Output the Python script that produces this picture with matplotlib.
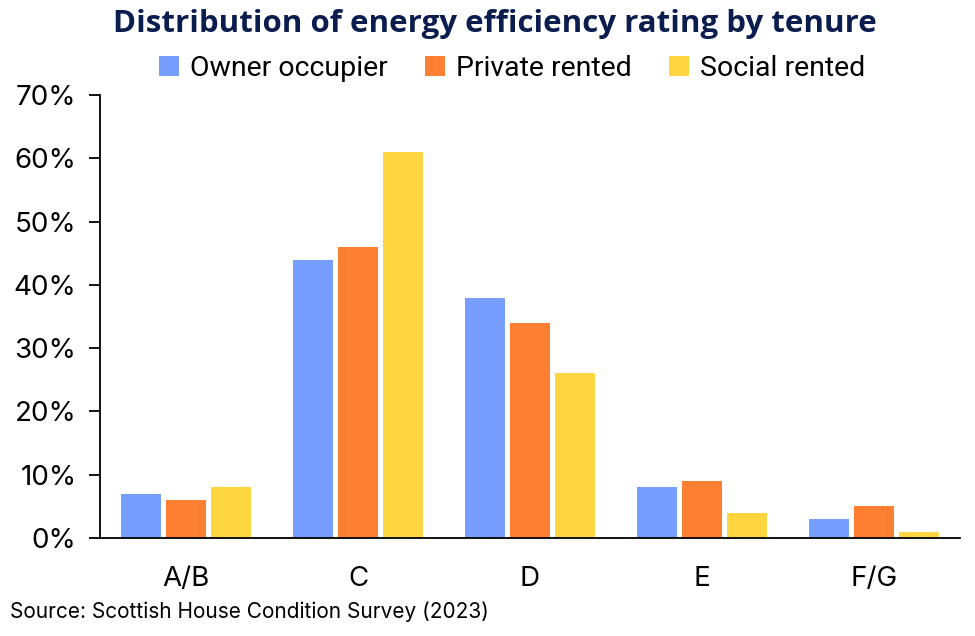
import matplotlib
matplotlib.use("Agg")
import matplotlib.pyplot as plt
import numpy as np

categories = ["A/B", "C", "D", "E", "F/G"]
series_names = ["Owner occupier", "Private rented", "Social rented"]
owner = [7, 44, 38, 8, 3]
private = [6, 46, 34, 9, 5]
social = [8, 61, 26, 4, 1]
colors = ["#779EFF", "#FF7F32", "#FFD540"]
yticks = [0, 10, 20, 30, 40, 50, 60, 70]

fig = plt.figure(figsize=(9.75, 6.36), dpi=100)
ax = fig.add_axes([100/975, 1 - 538/636, 860/975, (538-95)/636])

x = np.arange(len(categories))
w = 0.235
off = 0.26
for i, (vals, name) in enumerate(zip([owner, private, social], series_names)):
    ax.bar(x + (i - 1) * off, vals, width=w, color=colors[i], label=name, zorder=2)

ax.set_xlim(-0.5, len(categories) - 0.5)
ax.set_ylim(0, 70)
ax.set_yticks(yticks)
ax.set_yticklabels([f"{v}%" for v in yticks], fontsize=20, family="Inter")
ax.set_xticks(x)
ax.set_xticklabels(categories, fontsize=20, family="Inter")
for s in ["top", "right"]:
    ax.spines[s].set_visible(False)
ax.spines["left"].set_linewidth(1.3)
ax.spines["bottom"].set_linewidth(1.3)
ax.tick_params(axis="y", length=8, width=1.3, pad=9)
ax.tick_params(axis="x", length=0, pad=20)

fig.text(495/975, 1 - 24/636, "Distribution of energy efficiency rating by tenure",
         ha="center", va="center", fontsize=22.5, fontweight="bold", color="#0B1D4F",
         family="Open Sans")
fig.legend(loc="center", bbox_to_anchor=(512/975, 1 - 68/636), ncol=3, frameon=False,
           prop={"family": "Roboto", "size": 20.5}, handlelength=0.7, handleheight=0.7,
           handletextpad=0.4, columnspacing=1.3)
fig.text(10/975, 1 - 612/636, "Source: Scottish House Condition Survey (2023)",
         ha="left", va="center", fontsize=15, family="Inter")

fig.savefig("out.png", dpi=100)
